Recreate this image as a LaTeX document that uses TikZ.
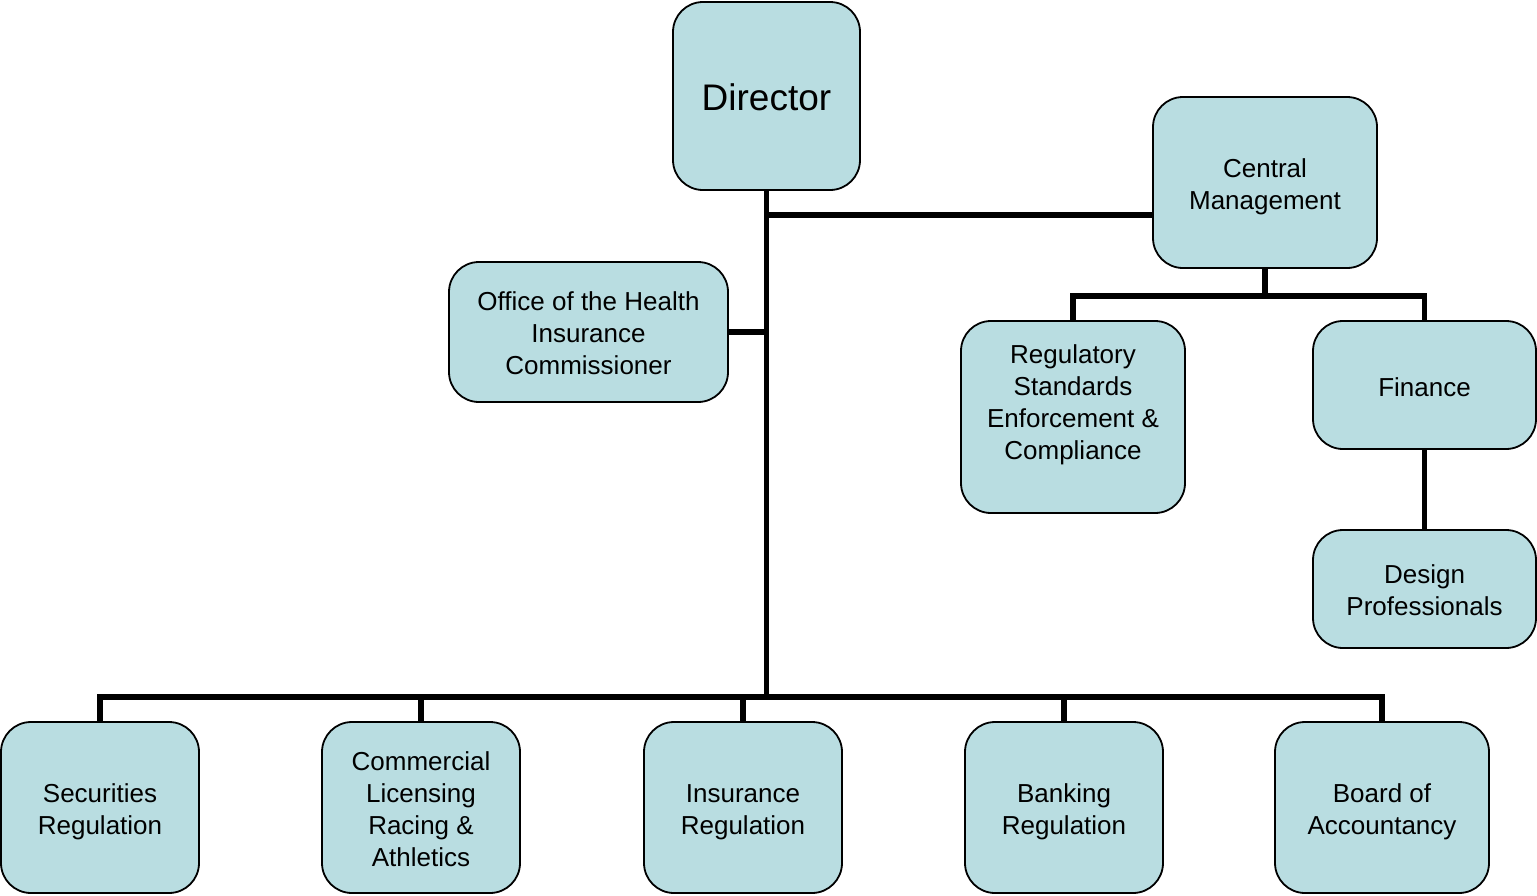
\documentclass[tikz,border=0pt]{standalone}
\usepackage{fontspec}
\setmainfont{Liberation Sans}
\usetikzlibrary{backgrounds}
\definecolor{boxfill}{HTML}{B9DDE1}
\begin{document}
\begin{tikzpicture}[x=1pt,y=-1pt,
  box/.style={draw=black, line width=1.8pt, fill=boxfill, rounded corners=30pt, inner sep=0pt},
  txt/.style={align=center, inner sep=0pt, font=\fontsize{26}{32}\selectfont},
  conn/.style={draw=black, line width=5.5pt}]
\useasboundingbox (0,0) rectangle (1537,895);
% boxes
\node[box, minimum width=187, minimum height=188] (dir) at (766.5,96) {};
\node[box, minimum width=224, minimum height=171] (cm) at (1265,182.5) {};
\node[box, minimum width=279, minimum height=140] (ohic) at (588.5,332) {};
\node[box, minimum width=224, minimum height=192] (rse) at (1073,417) {};
\node[box, minimum width=223, minimum height=128] (fin) at (1424.5,385) {};
\node[box, minimum width=223, minimum height=118] (des) at (1424.5,589) {};
\node[box, minimum width=198, minimum height=171] (sec) at (100,807.5) {};
\node[box, minimum width=198, minimum height=171] (com) at (421,807.5) {};
\node[box, minimum width=198, minimum height=171] (ins) at (743,807.5) {};
\node[box, minimum width=198, minimum height=171] (ban) at (1064,807.5) {};
\node[box, minimum width=214, minimum height=171] (boa) at (1382,807.5) {};
% texts
\node[txt, font=\fontsize{37}{44}\selectfont] (dirt) at ([yshift=-1pt]dir.center) {Director};
\node[txt] (cmt) at ([yshift=-4pt]cm.center) {Central\\Management};
\node[txt] (ohict) at ([yshift=-1pt]ohic.center) {Office of the Health\\Insurance\\Commissioner};
\node[txt] (rset) at ([yshift=12pt]rse.center) {Regulatory\\Standards\\Enforcement \&\\Compliance};
\node[txt] (fint) at ([yshift=-2pt]fin.center) {Finance};
\node[txt] (dest) at ([yshift=-1pt]des.center) {Design\\Professionals};
\node[txt] (sect) at ([yshift=-4pt]sec.center) {Securities\\Regulation};
\node[txt] (comt) at ([yshift=-2pt]com.center) {Commercial\\Licensing\\Racing \&\\Athletics};
\node[txt] (inst) at ([yshift=-5pt]ins.center) {Insurance\\Regulation};
\node[txt] (bant) at ([yshift=-4pt]ban.center) {Banking\\Regulation};
\node[txt] (boat) at ([yshift=-4pt]boa.center) {Board of\\Accountancy};
% junction coordinates
\coordinate (bus) at (766.5,697);
\coordinate (cmin) at (1153,215);
\coordinate (cmbus) at (1265,296);
% connectors (behind boxes)
\begin{pgfonlayer}{background}
\draw[conn] (dir.south) -- (bus);
\draw[conn] (bus) -| (sec.north);
\draw[conn] (bus) -| (com.north);
\draw[conn] (bus) -| (ins.north);
\draw[conn] (bus) -| (ban.north);
\draw[conn] (bus) -| (boa.north);
\draw[conn] (cmin) -- (cmin -| dir.south);
\draw[conn] (ohic.east) -- (ohic.east -| dir.south);
\draw[conn] (cm.south) -- (cmbus);
\draw[conn] (cmbus) -| (rse.north);
\draw[conn] (cmbus) -| (fin.north);
\draw[conn] (fin.south) -- (des.north);
\end{pgfonlayer}
\end{tikzpicture}
\end{document}
